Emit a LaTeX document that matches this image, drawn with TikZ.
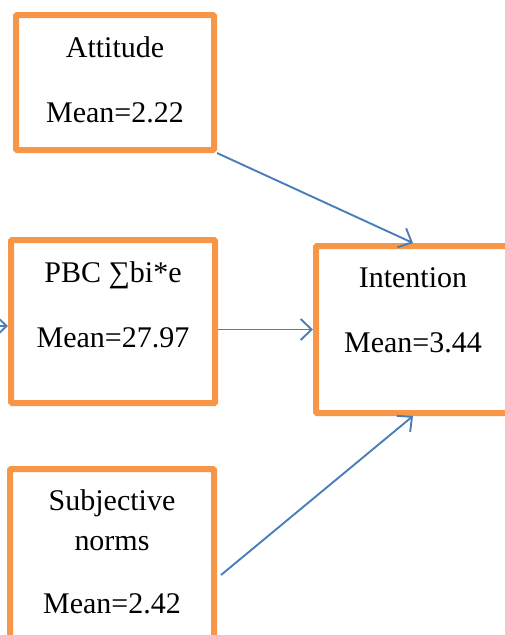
\documentclass[tikz,border=0pt]{standalone}
\usepackage{fontspec}
\setmainfont{Liberation Serif}
\usetikzlibrary{arrows.meta,calc}
\definecolor{boxorange}{HTML}{F79646}
\definecolor{arrblue}{HTML}{4A7EBB}
\begin{document}
\begin{tikzpicture}[x=1pt,y=-1pt,
  box/.style={draw=boxorange,line width=6pt,rounded corners=1pt,inner sep=0pt,fill=none},
  txt/.style={align=center,font=\fontsize{30}{40}\selectfont,inner sep=0pt},
  arr/.style={draw=arrblue,line width=1.9pt,-{Straight Barb[length=11pt,width=21pt,line width=1.9pt]}}]
\useasboundingbox (0,0) rectangle (504,635);
% boxes
\node[box,minimum width=198pt,minimum height=135pt] (att) at (115,82.5) {};
\node[box,minimum width=204pt,minimum height=163pt] (pbc) at (113,321.5) {};
\node[box,minimum width=194pt,minimum height=167pt] (int) at (413,329.5) {};
\node[box,minimum width=204pt,minimum height=172pt] (sub) at (112,555) {};
% texts
\node[txt] (att-t) at (115,79.5) {Attitude\\[25pt]Mean=2.22};
\node[txt] (pbc-t) at (113,304.5) {PBC ∑bi*e\\[25pt]Mean=27.97};
\node[txt] (int-t) at (413,310.5) {Intention\\[25pt]Mean=3.44};
\node[txt] (sub-t) at (112,551.5) {Subjective\\norms\\[23pt]Mean=2.42};
% arrows
\coordinate (lin) at (-40,326);
\draw[arr] (lin) -- (pbc.west |- lin);
\draw[arr] (att.south east) -- (int.north);
\draw[arr] (pbc.east |- int.west) -- (int.west);
\draw[arr] ([xshift=4pt,yshift=-20pt]sub.east) -- (int.south);
\end{tikzpicture}
\end{document}
